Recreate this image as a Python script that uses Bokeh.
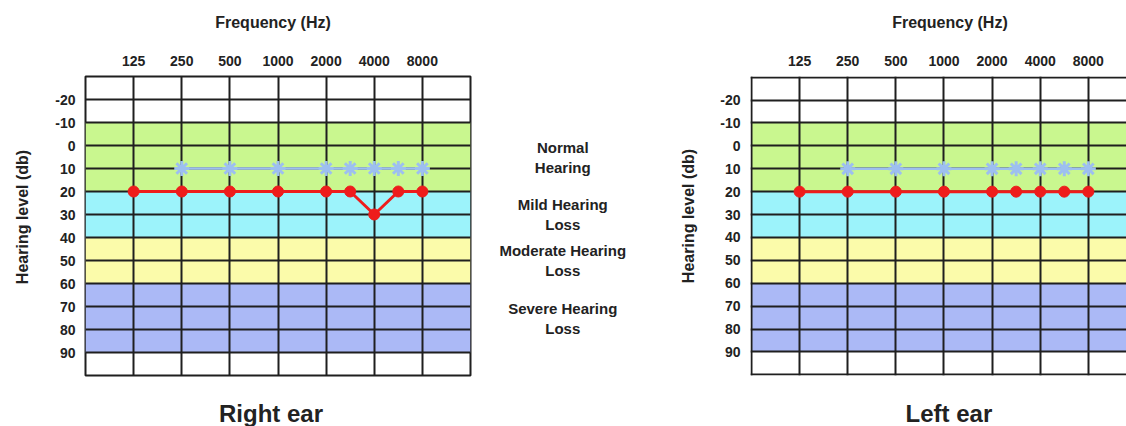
import numpy as np
from bokeh.plotting import figure
from bokeh.layouts import row, column
from bokeh.models import FixedTicker, Range1d
from bokeh.core.properties import value
from bokeh.embed import file_html
from bokeh.resources import INLINE

FONT = "Liberation Sans"

# ---- data ----
freq_ticks = [125, 250, 500, 1000, 2000, 4000, 8000]
freq_tick_labels = ["125", "250", "500", "1000", "2000", "4000", "8000"]
db_ticks = [-20, -10, 0, 10, 20, 30, 40, 50, 60, 70, 80, 90]
db_tick_labels = ["-20", "-10", "0", "10", "20", "30", "40", "50", "60", "70", "80", "90"]
grid_db = [-30, -20, -10, 0, 10, 20, 30, 40, 50, 60, 70, 80, 90, 100]
grid_cols = [0, 1, 2, 3, 4, 5, 6, 7, 8]

band_bottom = [-10, 20, 40, 60]
band_top = [20, 40, 60, 90]
band_colors = ["#c9f78f", "#9cf3fb", "#fbfbaa", "#abb9f6"]
band_line1 = ["Normal", "Mild Hearing", "Moderate Hearing", "Severe Hearing"]
band_line2 = ["Hearing", "Loss", "Loss", "Loss"]

right_air_freq = [125, 250, 500, 1000, 2000, 3000, 4000, 6000, 8000]
right_air_db = [20, 20, 20, 20, 20, 20, 30, 20, 20]
right_bone_freq = [250, 500, 1000, 2000, 3000, 4000, 6000, 8000]
right_bone_db = [10, 10, 10, 10, 10, 10, 10, 10]

left_air_freq = [125, 250, 500, 1000, 2000, 3000, 4000, 6000, 8000]
left_air_db = [20, 20, 20, 20, 20, 20, 20, 20, 20]
left_bone_freq = [250, 500, 1000, 2000, 3000, 4000, 6000, 8000]
left_bone_db = [10, 10, 10, 10, 10, 10, 10, 10]

RED = "#ee1c1c"
BLUE = "#9dbff0"
GRID = "#1f1f1f"
TXT = "#222222"


def fpos(f):
    # audiogram column position: octaves at whole columns, inter-octaves halfway
    return 1 + np.round(2 * np.log2(np.asarray(f, dtype=float) / 125.0)) / 2


HEAD_H, BODY_H, FOOT_H = 36, 341, 49
UNIT = 385 / 8.0
PAD = 0.02

xr_left = Range1d(0, 8)
yr_left = Range1d(100, -30)
xr_right = Range1d(-PAD, 376 / UNIT - PAD)
yr_right = Range1d(100.3, -30.3)


def blank(width, height, xr, yr, bl, br, bt, bb):
    f = figure(width=width, height=height, x_range=xr, y_range=yr,
               x_axis_location=None, y_axis_location=None, output_backend="svg",
               toolbar_location=None, min_border_left=bl, min_border_right=br,
               min_border_top=bt, min_border_bottom=bb, background_fill_color="white",
               border_fill_color="white")
    f.grid.visible = False
    f.outline_line_color = None
    return f


def txt(f, x, y, s, size, **kw):
    f.text(x=[x], y=[y], text=[s], text_align="center", text_baseline="middle",
           text_font=value(FONT), text_font_style="bold", text_font_size=size,
           text_color=TXT, **kw)


def audiogram(air_f, air_db, bone_f, bone_db, width, bl, br, bt, bb, xr, yr, outline):
    p = figure(width=width, height=BODY_H, x_range=xr, y_range=yr,
               x_axis_location="above", output_backend="svg", toolbar_location=None,
               min_border_left=bl, min_border_right=br, min_border_top=bt,
               min_border_bottom=bb, background_fill_color="white",
               border_fill_color="white")
    p.quad(left=0, right=8, bottom=band_bottom, top=band_top, fill_color=band_colors,
           line_color=None, level="image")

    p.xgrid.ticker = FixedTicker(ticks=grid_cols)
    p.ygrid.ticker = FixedTicker(ticks=grid_db)
    p.grid.grid_line_color = GRID
    p.grid.grid_line_width = 2
    p.grid.grid_line_alpha = 1
    if outline:
        p.outline_line_color = GRID
        p.outline_line_width = 2
        p.outline_line_alpha = 1
    else:
        p.outline_line_color = None

    xa = p.xaxis[0]
    xa.ticker = FixedTicker(ticks=[float(v) for v in fpos(freq_ticks)])
    xa.major_label_overrides = {int(v): t for v, t in zip(fpos(freq_ticks), freq_tick_labels)}
    xa.major_label_standoff = 11

    ya = p.yaxis[0]
    ya.ticker = FixedTicker(ticks=db_ticks)
    ya.major_label_overrides = {v: t for v, t in zip(db_ticks, db_tick_labels)}
    ya.major_label_standoff = 10

    for ax in (xa, ya):
        ax.axis_line_color = None
        ax.major_tick_line_color = None
        ax.minor_tick_line_color = None
        ax.major_tick_out = 0
        ax.major_label_text_font = FONT
        ax.major_label_text_font_style = "bold"
        ax.major_label_text_font_size = "14px"
        ax.major_label_text_color = TXT

    bx = fpos(bone_f)
    p.line(bx, bone_db, line_color=BLUE, line_width=2.5)
    p.scatter(bx, bone_db, marker="asterisk", size=15, line_color=BLUE, line_width=3)

    ax_ = fpos(air_f)
    p.line(ax_, air_db, line_color=RED, line_width=3)
    p.scatter(ax_, air_db, marker="circle", size=11, fill_color=RED, line_color=RED)
    return p


# ---- header row: "Frequency (Hz)" ----
head_l = blank(660, HEAD_H, xr_left, Range1d(1, 0), 85, 190, 0, 0)
txt(head_l, 4, 22 / HEAD_H, "Frequency (Hz)", "16px", x_offset=-5)
head_r = blank(466, HEAD_H, xr_right, Range1d(1, 0), 90, 0, 0, 0)
txt(head_r, 4, 22 / HEAD_H, "Frequency (Hz)", "16px", x_offset=6)

# ---- body row ----
y_mid = (grid_db[0] + grid_db[-1]) / 2
strip_l = blank(40, BODY_H, Range1d(0, 1), yr_left, 0, 0, 40, 2)
txt(strip_l, 0.55, y_mid, "Hearing level (db)", "16px", angle=np.pi / 2, y_offset=-9)
chart_l = audiogram(right_air_freq, right_air_db, right_bone_freq, right_bone_db,
                    432, 45, 2, 40, 2, xr_left, yr_left, True)

mid = blank(188, BODY_H, Range1d(0, 1), yr_left, 0, 0, 40, 2)
centers = [(b + t) / 2 for b, t in zip(band_bottom, band_top)]
for lines, dy in ((band_line1, -10), (band_line2, 10)):
    mid.text(x=[0.48] * 4, y=centers, text=lines, y_offset=dy, text_align="center",
             text_baseline="middle", text_font=value(FONT), text_font_style="bold",
             text_font_size="15px", text_color=TXT)

strip_r = blank(40, BODY_H, Range1d(0, 1), yr_right, 0, 0, 39, 1)
txt(strip_r, 0.7, y_mid, "Hearing level (db)", "16px", angle=np.pi / 2, y_offset=-10)
chart_r = audiogram(left_air_freq, left_air_db, left_bone_freq, left_bone_db,
                    426, 50, 0, 39, 1, xr_right, yr_right, False)

# ---- footer row: ear titles ----
foot_l = blank(660, FOOT_H, xr_left, Range1d(1, 0), 85, 190, 0, 0)
txt(foot_l, 4, 0.73, "Right ear", "24px", x_offset=-7)
foot_r = blank(466, FOOT_H, xr_right, Range1d(1, 0), 90, 0, 0, 0)
txt(foot_r, 4, 0.73, "Left ear", "24px", x_offset=5)

layout = column(
    row(head_l, head_r, spacing=0),
    row(strip_l, chart_l, mid, strip_r, chart_r, spacing=0),
    row(foot_l, foot_r, spacing=0),
    spacing=0,
)
open("out.html", "w").write(file_html(layout, INLINE))
